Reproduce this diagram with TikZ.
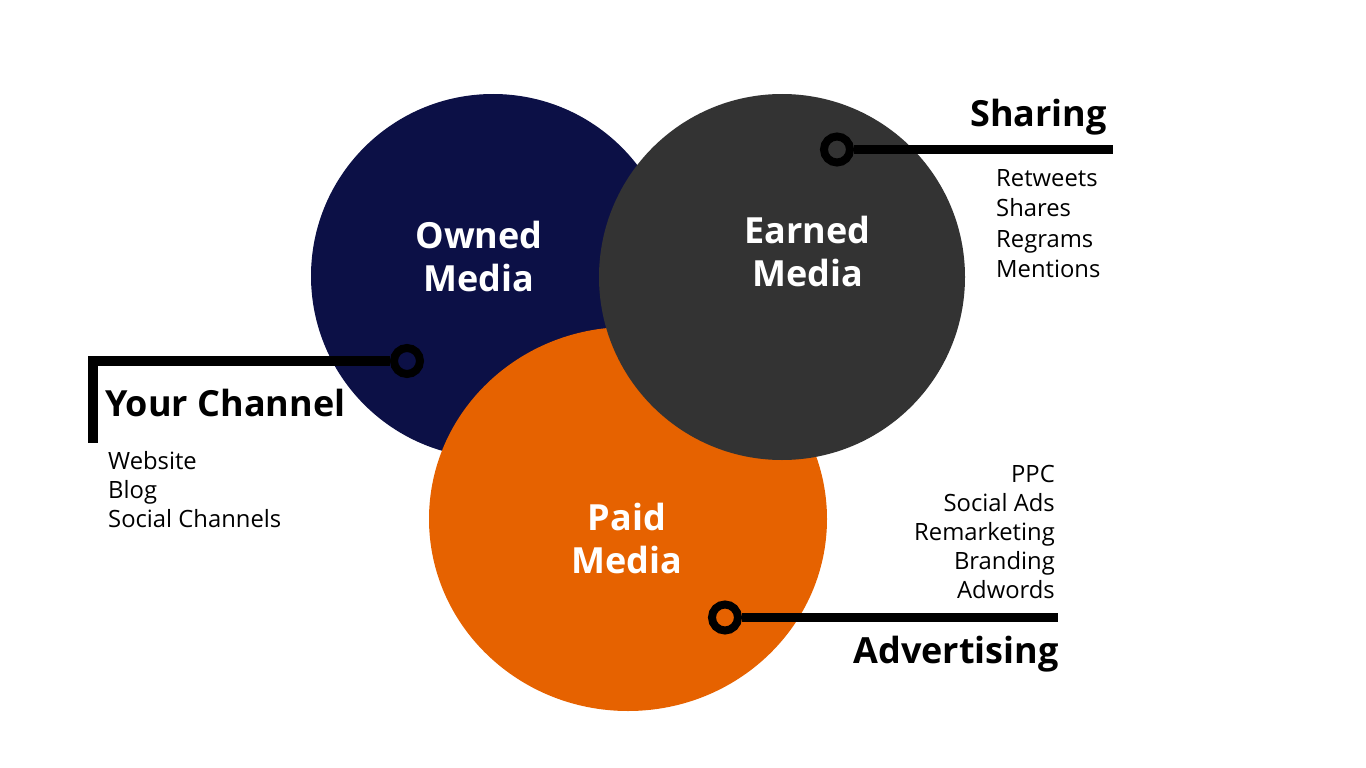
\documentclass[tikz,border=0pt]{standalone}
\usepackage{fontspec}
\setmainfont{Open Sans}
\usetikzlibrary{shapes.geometric}
\definecolor{navyc}{RGB}{12,16,70}
\definecolor{grayc}{RGB}{51,51,51}
\definecolor{orangec}{RGB}{230,98,0}
\newcommand{\stk}[2]{\begin{tabular}[t]{@{}#1@{}}#2\end{tabular}}
\tikzset{
  blob/.style={inner sep=0pt, outer sep=0pt, draw=none},
  medialabel/.style={text=white, inner sep=0pt, anchor=base, font=\fontsize{36}{43}\selectfont\bfseries},
  heading/.style={text=black, inner sep=0pt, font=\fontsize{36}{43}\selectfont\bfseries},
  itemlist/.style={text=black, inner sep=0pt, font=\fontsize{23.8}{29}\selectfont},
  ring/.style={circle, draw=black, line width=8pt, minimum size=26pt, inner sep=0pt, fill=none},
  conn/.style={draw=black, line width=9.5pt, line cap=butt, line join=miter}
}
\begin{document}
\begin{tikzpicture}[x=1pt,y=-1pt]
\useasboundingbox (0,0) rectangle (1366,768);
% circles
\node[blob, circle, fill=navyc, minimum size=364pt] (owned) at (493,276) {};
\node[blob, ellipse, fill=orangec, minimum width=398pt, minimum height=384pt] (paid) at (628,519) {};
\node[blob, circle, fill=grayc, minimum size=366pt] (earned) at (782,277) {};
% circle labels
\node[medialabel] (ownedtxt) at (479,248) {\stk{c}{Owned\\Media}};
\node[medialabel] (earnedtxt) at (807.5,243) {\stk{c}{Earned\\Media}};
\node[medialabel] (paidtxt) at (627,530) {\stk{c}{Paid\\Media}};
% Sharing callout
\node[ring] (rshare) at (837,149.5) {};
\coordinate (eshare) at (1113,149.5);
\draw[conn] (rshare.east) -- (eshare);
\node[heading, anchor=base east] (sharing) at (1107,126) {Sharing};
\node[itemlist, anchor=base west, font=\fontsize{23.8}{30.5}\selectfont] (sharelist) at (996,186) {\stk{l}{Retweets\\Shares\\Regrams\\Mentions}};
% Your Channel callout
\node[ring] (rchan) at (407,361) {};
\coordinate (cchan) at (93,361);
\coordinate (echan) at (93,443);
\draw[conn] (rchan.west) -- (cchan) -- (echan);
\node[heading, anchor=base west] (channel) at (105,416) {Your Channel};
\node[itemlist, anchor=base west] (chanlist) at (108,469) {\stk{l}{Website\\Blog\\Social Channels}};
% Advertising callout
\node[ring] (rads) at (725,617.5) {};
\coordinate (eads) at (1058,617.5);
\draw[conn] (rads.east) -- (eads);
\node[heading, anchor=base east] (advertising) at (1059,663) {Advertising};
\node[itemlist, anchor=base east] (adslist) at (1055,482) {\stk{r}{PPC\\Social Ads\\Remarketing\\Branding\\Adwords}};
\end{tikzpicture}
\end{document}
